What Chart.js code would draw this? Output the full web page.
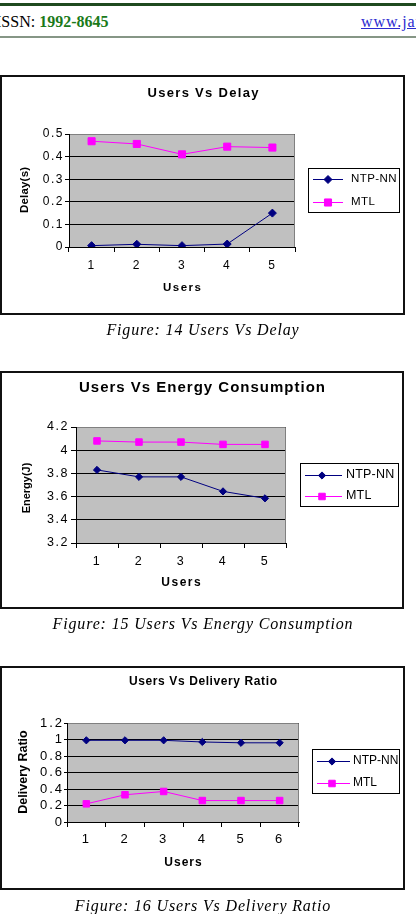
<!DOCTYPE html>
<html><head><meta charset="utf-8">
<script src="https://cdn.jsdelivr.net/npm/chart.js@4.4.1/dist/chart.umd.min.js"></script>
<style>
html,body{margin:0;padding:0;background:#fff}
body{width:416px;height:914px;overflow:hidden;position:relative;font-family:"Liberation Serif","Times New Roman",serif}
.abs{position:absolute}
.frame{position:absolute;border:2px solid #111;box-sizing:border-box;pointer-events:none}
.cap{position:absolute;left:0;width:406px;text-align:center;font-style:italic;font-size:16px;line-height:20px;letter-spacing:0.85px;white-space:nowrap}
canvas{position:absolute;display:block}
</style></head>
<body>
<div class="abs" style="left:0;top:3px;width:416px;height:3px;background:#1f4a1f"></div>
<div class="abs" style="left:-4px;top:12px;font-size:16px;line-height:20px;white-space:nowrap">ISSN: <b style="color:#1a7a1a">1992-8645</b></div>
<div class="abs" style="left:361px;top:12px;font-size:16px;line-height:20px;letter-spacing:0.9px;white-space:nowrap;color:#2a2ad0;text-decoration:underline">www.jatit.org</div>
<div class="abs" style="left:0;top:36px;width:416px;height:2px;background:#869686"></div>

<canvas id="c1"></canvas><div class="frame" id="f1"></div>
<div class="cap" style="top:320px">Figure: 14 Users Vs Delay</div>
<canvas id="c2"></canvas><div class="frame" id="f2"></div>
<div class="cap" style="top:614px">Figure: 15 Users Vs Energy Consumption</div>
<canvas id="c3"></canvas><div class="frame" id="f3"></div>
<div class="cap" style="top:896px">Figure: 16 Users Vs Delivery Ratio</div>

<script>
// ---------- data ----------
const seriesNames = ['NTP-NN', 'MTL'];

const delayUsers = ['1', '2', '3', '4', '5'];
const delayNTP = [0.006, 0.012, 0.006, 0.013, 0.15];
const delayMTL = [0.468, 0.456, 0.41, 0.444, 0.44];
const delayTicks = [0, 0.1, 0.2, 0.3, 0.4, 0.5];

const energyUsers = ['1', '2', '3', '4', '5'];
const energyNTP = [3.83, 3.77, 3.77, 3.645, 3.585];
const energyMTL = [4.08, 4.07, 4.07, 4.05, 4.05];
const energyTicks = [3.2, 3.4, 3.6, 3.8, 4, 4.2];

const ratioUsers = ['1', '2', '3', '4', '5', '6'];
const ratioNTP = [0.99, 0.99, 0.99, 0.97, 0.96, 0.96];
const ratioMTL = [0.22, 0.33, 0.37, 0.26, 0.26, 0.26];
const ratioTicks = [0, 0.2, 0.4, 0.6, 0.8, 1, 1.2];

// ---------- drawing ----------
const SANS = '"Liberation Sans", Arial, sans-serif';
const YW = 40, XH = 30;

function spaced(ctx, txt, x, y, sp, align) {
  ctx.letterSpacing = sp + 'px';
  const w = ctx.measureText(txt).width - sp;
  let sx = x;
  if (align === 'center') sx = x - w / 2;
  else if (align === 'right') sx = x - w;
  ctx.textAlign = 'left';
  ctx.fillText(txt, sx, y);
  ctx.letterSpacing = '0px';
}

function marker(ctx, style, r, x, y, color) {
  ctx.save();
  ctx.fillStyle = color; ctx.strokeStyle = color; ctx.lineWidth = 1;
  ctx.beginPath();
  if (style === 'rectRot') {
    ctx.moveTo(x, y - r); ctx.lineTo(x + r, y); ctx.lineTo(x, y + r); ctx.lineTo(x - r, y); ctx.closePath();
  } else {
    const h = r * Math.SQRT1_2;
    ctx.rect(x - h, y - h, 2 * h, 2 * h);
  }
  ctx.fill(); ctx.stroke();
  ctx.restore();
}

const deco = {
  id: 'deco',
  beforeDraw(chart, args, o) {
    const { ctx, chartArea: a } = chart;
    ctx.save();
    ctx.fillStyle = '#c0c0c0';
    ctx.fillRect(a.left, a.top, a.right - a.left, a.bottom - a.top);
    ctx.restore();
    ctx.letterSpacing = o.tickSpacing + 'px';
  },
  beforeDatasetsDraw(chart, args, o) {
    const { ctx, chartArea: a } = chart;
    ctx.letterSpacing = '0px';
    ctx.save();
    ctx.strokeStyle = '#808080'; ctx.lineWidth = 1;
    ctx.beginPath();
    ctx.moveTo(a.left + 1, a.top + 0.5);
    ctx.lineTo(a.right - 0.5, a.top + 0.5);
    ctx.lineTo(a.right - 0.5, a.bottom);
    ctx.stroke();
    ctx.restore();
  },
  afterDraw(chart, args, o) {
    const ctx = chart.ctx;
    const ox = o.ox, oy = o.oy;
    ctx.save();
    ctx.fillStyle = '#000';
    ctx.textBaseline = 'middle';
    // title
    ctx.font = 'bold ' + o.title.size + 'px ' + SANS;
    spaced(ctx, o.title.text, o.title.x - ox, o.title.y - oy, o.title.sp, 'center');
    // x title
    ctx.font = 'bold ' + o.xt.size + 'px ' + SANS;
    spaced(ctx, o.xt.text, o.xt.x - ox, o.xt.y - oy, o.xt.sp, 'center');
    // y title
    ctx.save();
    ctx.translate(o.yt.x - ox, o.yt.y - oy);
    ctx.rotate(-Math.PI / 2);
    ctx.font = 'bold ' + o.yt.size + 'px ' + SANS;
    spaced(ctx, o.yt.text, 0, 0, o.yt.sp, 'center');
    ctx.restore();
    // legend
    const L = o.legend;
    ctx.fillStyle = '#fff';
    ctx.fillRect(L.x - ox, L.y - oy, L.w, L.h);
    ctx.strokeStyle = '#000'; ctx.lineWidth = 1;
    ctx.strokeRect(L.x - ox + 0.5, L.y - oy + 0.5, L.w - 1, L.h - 1);
    chart.data.datasets.forEach((ds, i) => {
      const yy = L.rows[i] - oy;
      ctx.strokeStyle = ds.borderColor; ctx.lineWidth = 1;
      ctx.beginPath();
      ctx.moveTo(L.x1 - ox, Math.round(yy) + 0.5);
      ctx.lineTo(L.x2 - ox, Math.round(yy) + 0.5);
      ctx.stroke();
      marker(ctx, ds.pointStyle, ds.pointRadius, L.mx - ox, Math.round(yy) + 0.5, ds.backgroundColor);
      ctx.fillStyle = '#000';
      ctx.font = L.size + 'px ' + SANS;
      spaced(ctx, ds.label, L.tx - ox, yy, L.sp, 'left');
    });
    ctx.restore();
  }
};

function build(id, frameId, box, plot, cfg) {
  const cv = document.getElementById(id);
  cv.width = box.w; cv.height = box.h;
  cv.style.left = box.l + 'px'; cv.style.top = box.t + 'px';
  const fr = document.getElementById(frameId);
  fr.style.left = box.l + 'px'; fr.style.top = box.t + 'px';
  fr.style.width = box.w + 'px'; fr.style.height = box.h + 'px';
  const pad = {
    left: plot.l - box.l - YW,
    top: plot.t - box.t,
    right: box.l + box.w - plot.r,
    bottom: box.t + box.h - plot.b - XH
  };
  const tickFont = { family: SANS, size: cfg.tickSize };
  new Chart(cv, {
    type: 'line',
    data: {
      labels: cfg.labels,
      datasets: [
        { label: seriesNames[0], data: cfg.ntp, borderColor: '#000080', backgroundColor: '#000080',
          pointStyle: 'rectRot', pointRadius: cfg.dr, pointBorderWidth: 1, borderWidth: 1, tension: 0, fill: false },
        { label: seriesNames[1], data: cfg.mtl, borderColor: '#ff00ff', backgroundColor: '#ff00ff',
          pointStyle: 'rect', pointRadius: cfg.sr, pointBorderWidth: 1, borderWidth: 1, tension: 0, fill: false }
      ]
    },
    options: {
      responsive: false, animation: false, devicePixelRatio: 1,
      layout: { padding: pad },
      events: [],
      plugins: {
        legend: { display: false }, title: { display: false }, tooltip: { enabled: false },
        deco: Object.assign({ ox: box.l, oy: box.t }, cfg.deco)
      },
      scales: {
        x: {
          type: 'category', offset: true,
          grid: { offset: true, drawOnChartArea: false, drawTicks: true, tickLength: 5, color: '#000' },
          border: { color: '#000' },
          ticks: { color: '#000', font: tickFont, padding: cfg.xpad, maxRotation: 0, autoSkip: false },
          afterFit(s) { s.height = XH; }
        },
        y: {
          min: cfg.ticks[0], max: cfg.ticks[cfg.ticks.length - 1],
          afterBuildTicks(s) { s.ticks = cfg.ticks.map(v => ({ value: v })); },
          grid: { color: '#000', tickColor: '#000', tickLength: cfg.ytl, drawTicks: true },
          border: { color: '#000' },
          ticks: { color: '#000', font: tickFont, padding: cfg.ypad, autoSkip: false,
            callback: v => String(+(+v).toFixed(2)) },
          afterFit(s) { s.width = YW; }
        }
      }
    },
    plugins: [deco]
  });
}

build('c1', 'f1', { l: 0, t: 75, w: 405, h: 240 }, { l: 69, t: 134, r: 295, b: 247 }, {
  labels: delayUsers, ntp: delayNTP, mtl: delayMTL, ticks: delayTicks,
  dr: 4, sr: 5, tickSize: 12, xpad: 6, ypad: 1, ytl: 4,
  deco: {
    tickSpacing: 1.5,
    title: { text: 'Users Vs Delay', size: 13, sp: 1.3, x: 203, y: 93 },
    xt: { text: 'Users', size: 11.5, sp: 1.5, x: 182, y: 288 },
    yt: { text: 'Delay(s)', size: 11.5, sp: 0.2, x: 25, y: 190 },
    legend: { x: 308, y: 168, w: 92, h: 45, rows: [179, 202], x1: 313, x2: 343, mx: 328, tx: 351, size: 11.5, sp: 0.4 }
  }
});

build('c2', 'f2', { l: 0, t: 371, w: 404, h: 238 }, { l: 76, t: 427, r: 286, b: 543 }, {
  labels: energyUsers, ntp: energyNTP, mtl: energyMTL, ticks: energyTicks,
  dr: 3.6, sr: 4.6, tickSize: 12.5, xpad: 6, ypad: 2, ytl: 5,
  deco: {
    tickSpacing: 1.5,
    title: { text: 'Users Vs Energy Consumption', size: 15, sp: 1, x: 202, y: 388 },
    xt: { text: 'Users', size: 12, sp: 1.5, x: 181, y: 583 },
    yt: { text: 'Energy(J)', size: 11, sp: 0, x: 27, y: 488 },
    legend: { x: 300, y: 463, w: 99, h: 44, rows: [475, 496], x1: 305, x2: 342, mx: 322, tx: 346, size: 12.5, sp: 0.2 }
  }
});

build('c3', 'f3', { l: 0, t: 666, w: 405, h: 224 }, { l: 67, t: 723, r: 299, b: 822 }, {
  labels: ratioUsers, ntp: ratioNTP, mtl: ratioMTL, ticks: ratioTicks,
  dr: 3.6, sr: 4.6, tickSize: 13, xpad: 5, ypad: 0, ytl: 3,
  deco: {
    tickSpacing: 2,
    title: { text: 'Users Vs Delivery Ratio', size: 12, sp: 0.6, x: 203, y: 682 },
    xt: { text: 'Users', size: 12, sp: 1, x: 183, y: 863 },
    yt: { text: 'Delivery Ratio', size: 12.5, sp: 0, x: 24, y: 772 },
    legend: { x: 312, y: 749, w: 88, h: 45, rows: [761, 783], x1: 317, x2: 350, mx: 332, tx: 353, size: 12, sp: 0 }
  }
});
</script>
</body></html>
